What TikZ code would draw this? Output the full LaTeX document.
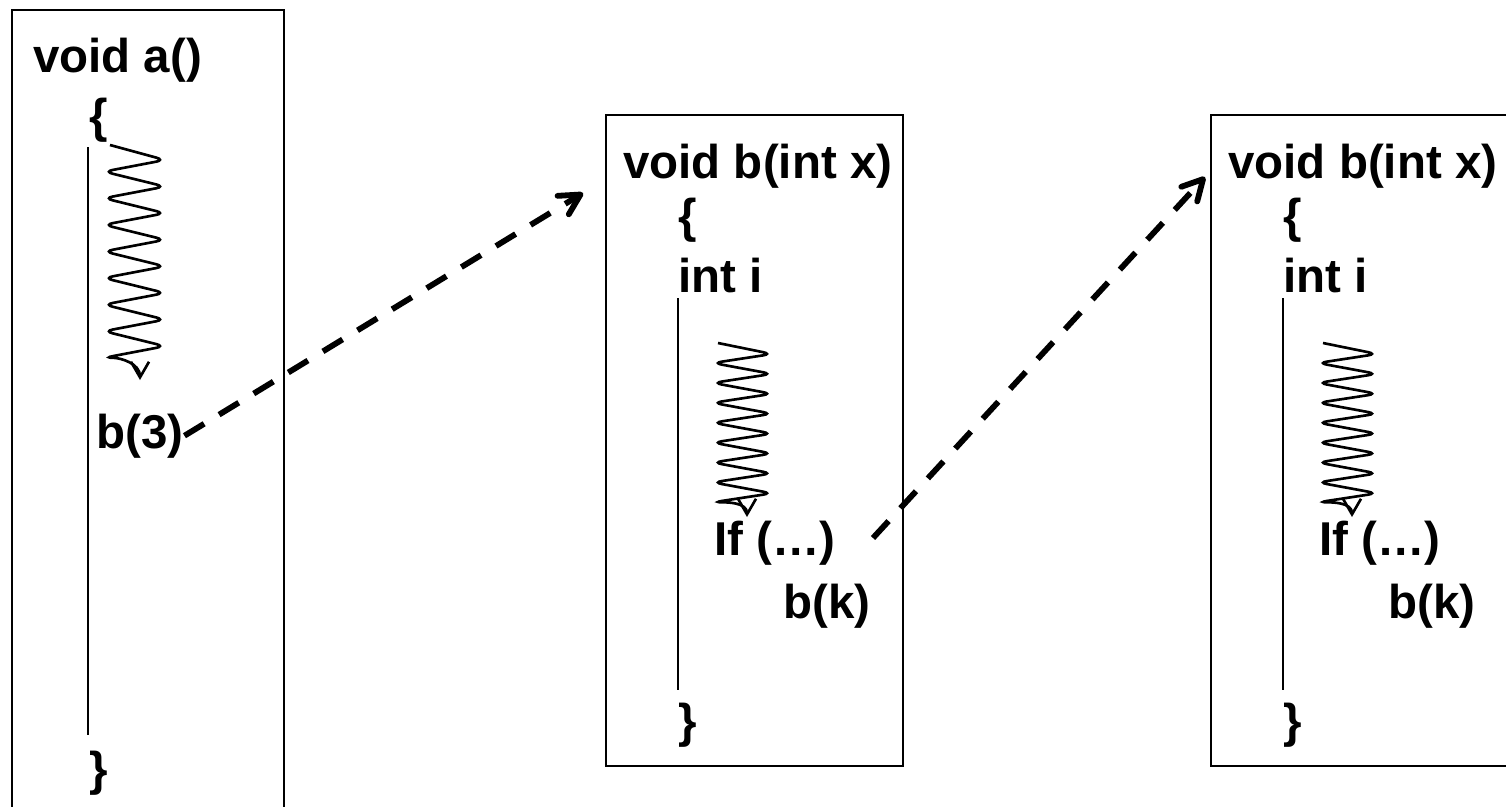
\documentclass[tikz,border=0pt]{standalone}
\usepackage{fontspec}
\setmainfont{Liberation Sans}
\usetikzlibrary{arrows.meta}
\tikzset{
  every picture/.style={line width=0.7pt, font=\fontsize{13.5}{16}\selectfont\bfseries},
  frame/.style={draw, line width=0.75pt},
  code/.style={anchor=base west, inner sep=0pt},
  rail/.style={line width=0.6pt},
  wave/.style={line width=0.75pt, rounded corners=2.5pt, -{Straight Barb[angle=60:1.8mm]}},
  call/.style={line width=1.65pt, dash pattern=on 2.3mm off 1.75mm, -{Straight Barb[angle=56:2.3mm, round]}},
}

\begin{document}
\begin{tikzpicture}[x=0.01cm, y=-0.01cm]
  \useasboundingbox (0,0) rectangle (1506,806);
  % caller
  \draw[frame] (12,10) rectangle (284,840);
  \node[code] (siga) at (32,72) {void a()};
  \node[code] (opena) at (88,132) {\{};
  \draw[rail] (88,147) -- (88,735);
  \draw[wave] (110,145) foreach \k in {0,...,7} {-- (165,{160+26.6*\k}) -- (104,{171.6+26.6*\k})} to[out=0,in=90] (140,380);
  \node[code] (b3) at (95,448) {b(3)};
  \node[code] (closea) at (88,785) {\}};
  % callees
  \foreach \s/\n in {0/2, 605/3}{
    \begin{scope}[shift={(\s,0)}]
      \draw[frame] (606,115) rectangle (903,766);
      \node[code] (sig\n) at (622,178) {void b(int x)};
      \node[code] (open\n) at (677,232) {\{};
      \node[code] (loc\n) at (677,292) {int i};
      \draw[rail] (678,298) -- (678,690);
      \draw[wave] (718,343) foreach \k in {0,...,7} {-- (772,{354+19.9*\k}) -- (713,{363+19.9*\k})} to[out=0,in=90] (747,517);
      \node[code] (if\n) at (713,555) {If (…)};
      \node[code] (call\n) at (782,618) {b(k)};
      \node[code] (close\n) at (677,737) {\}};
    \end{scope}
  }
  % calls
  \coordinate (entry2) at (583,193);
  \coordinate (leave2) at (873,538);
  \coordinate (entry3) at (1205,177);
  \draw[call] (b3.east) -- (entry2);
  \draw[call] (leave2) -- (entry3);
\end{tikzpicture}
\end{document}
